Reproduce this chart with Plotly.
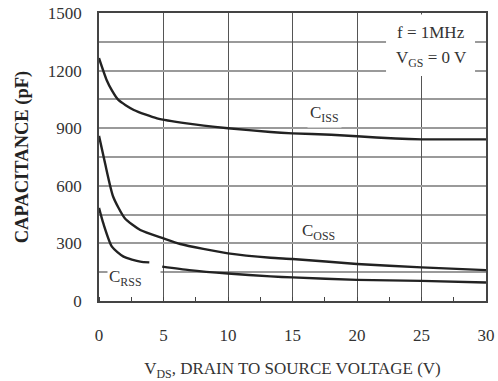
import plotly.graph_objects as go

# Data
v_ciss = [0, 0.6, 1.0, 1.5, 2.7, 4.5, 6.8, 10, 13.3, 15, 18, 20, 23, 25, 30]
c_ciss = [1265, 1150, 1097, 1047, 995, 951, 925, 900, 880, 873, 866, 858, 846, 842, 842]

v_coss = [0, 0.47, 1.1, 2.0, 3.2, 5, 6.3, 10, 13.3, 15, 20, 25, 30]
c_coss = [860, 717, 543, 431, 370, 326, 297, 248, 225, 219, 193, 175, 161]

v_crss = [0, 0.33, 1.0, 1.9, 3.2, 3.9, None, 4.9, 7, 10, 13.3, 15, 20, 25, 30]
c_crss = [485, 405, 283, 231, 205, 201, None, 179, 161, 143, 128, 123, 110, 105, 96]

x_ticks = [0, 5, 10, 15, 20, 25, 30]
y_ticks = [0, 300, 600, 900, 1200, 1500]

FONT = "Liberation Serif, Times New Roman, serif"

fig = go.Figure()
for vx, cy in [(v_ciss, c_ciss), (v_coss, c_coss), (v_crss, c_crss)]:
    fig.add_trace(go.Scatter(x=vx, y=cy, mode="lines", line=dict(color="#222222", width=2.4, shape="spline", smoothing=0.6),
                             connectgaps=False, showlegend=False, hoverinfo="skip"))

# white box behind the test-condition note (hides grid lines like the reference)
fig.add_shape(type="rect", xref="x", yref="y", x0=22.25, x1=29.15, y0=1172, y1=1492,
              fillcolor="white", line=dict(width=0), layer="above")

fig.add_annotation(x=17.5, y=974, text="C<sub>ISS</sub>", showarrow=False, bgcolor="white",
                   font=dict(family=FONT, size=17, color="#333"), borderpad=2)
fig.add_annotation(x=17.0, y=359, text="C<sub>OSS</sub>", showarrow=False,
                   font=dict(family=FONT, size=17, color="#333"))
fig.add_annotation(x=2.71, y=118, text="C<sub>RSS</sub>", showarrow=False, bgcolor="white",
                   width=50, align="left",
                   font=dict(family=FONT, size=17, color="#333"), borderpad=1)
fig.add_annotation(x=25.75, y=1396, text="f = 1MHz", showarrow=False,
                   font=dict(family=FONT, size=17, color="#333"))
fig.add_annotation(x=25.75, y=1262, text="V<sub>GS</sub> = 0 V", showarrow=False,
                   font=dict(family=FONT, size=17, color="#333"))

fig.update_layout(
    width=498, height=381,
    margin=dict(l=99, r=12, t=13, b=80),
    paper_bgcolor="white", plot_bgcolor="white",
    font=dict(family=FONT, size=17, color="#333"),
    xaxis=dict(range=[0, 30], tickvals=x_ticks, ticktext=[str(v) for v in x_ticks],
               showgrid=True, gridcolor="#555", gridwidth=1.2, zeroline=False,
               showline=True, linecolor="#444", linewidth=1.5, mirror=True,
               ticks="", ticklabelstandoff=18, automargin=False,
               minor=dict(dtick=2.5, ticks="inside", ticklen=4, tickcolor="#444", showgrid=False),
               title=dict(text="V<sub>DS</sub>, DRAIN TO SOURCE VOLTAGE (V)", standoff=22,
                          font=dict(family=FONT, size=17, color="#333"))),
    yaxis=dict(range=[0, 1500], tickvals=y_ticks, ticktext=[str(v) for v in y_ticks],
               showgrid=True, gridcolor="#9a9a9a", gridwidth=1.8, zeroline=False,
               showline=True, linecolor="#444", linewidth=1.5, mirror=True,
               ticks="", ticklabelstandoff=12, automargin=False,
               minor=dict(dtick=150, showgrid=True, gridcolor="#9a9a9a", gridwidth=1.8),
               title=dict(text="<b>CAPACITANCE (pF)</b>", standoff=14,
                          font=dict(family=FONT, size=18.5, color="#222"))),
)

fig.write_html("out.html")
